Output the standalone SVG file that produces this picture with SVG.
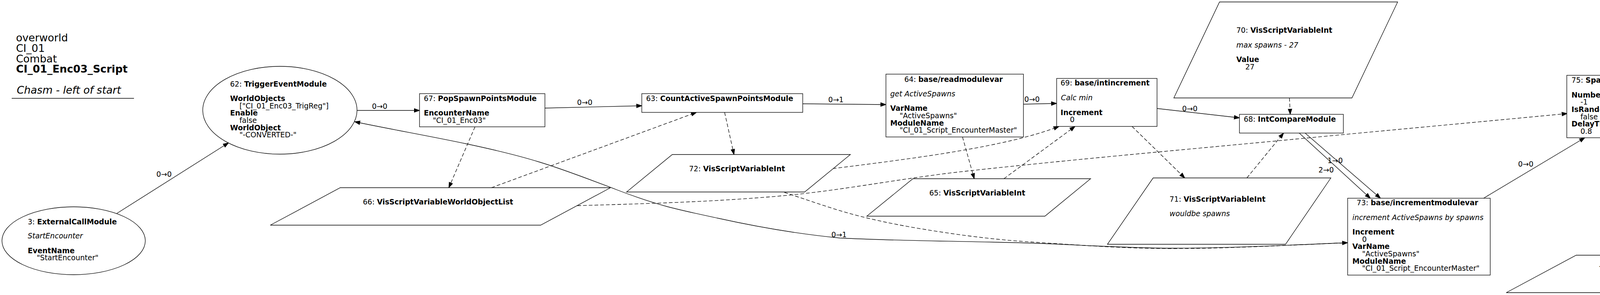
<svg xmlns="http://www.w3.org/2000/svg" width="4927" height="756" viewBox="0 0 4927 756">
<defs>
<style>
text{font-family:"DejaVu Sans","Liberation Sans",sans-serif;font-size:18.67px;fill:#000}
.b{font-weight:bold}
.i{font-style:italic}
.t{font-size:26.67px}
.n{fill:#fff;stroke:#000;stroke-width:1.33}
.e{fill:none;stroke:#000;stroke-width:1.33;marker-end:url(#ah)}
.d{stroke-dasharray:9.33,5.33}
.nm{fill:none;stroke:#000;stroke-width:1.33}
.l{text-anchor:middle}
</style>
<marker id="ah" markerWidth="16" markerHeight="12" refX="13.3" refY="4.67" orient="auto" markerUnits="userSpaceOnUse" overflow="visible">
<path d="M0,0 L13.3,4.67 L0,9.33 z" fill="#000" stroke="#000" stroke-width="1.33"/>
</marker>
</defs>
<rect width="4927" height="756" fill="#fff"/>

<g id="title">
<text class="t" x="41" y="106">overworld</text>
<text class="t" x="41" y="133">CI_01</text>
<text class="t" x="41" y="160">Combat</text>
<text class="t b" x="41" y="186">CI_01_Enc03_Script</text>
<text class="t i" x="43" y="240">Chasm - left of start</text>
<line x1="30" y1="252" x2="343" y2="252" stroke="#000" stroke-width="1.33"/>
</g>

<g id="connectors">
<path class="e" d="M299,547 L585,366"/>
<text class="l" x="420" y="453">0→0</text>
<path class="e" d="M914,283 L1074,283"/>
<text class="l" x="972" y="279">0→0</text>
<path class="e" d="M1395,277 L1643,271"/>
<text class="l" x="1497" y="269">0→0</text>
<path class="e" d="M2055,266 L2268,268"/>
<text class="l" x="2140" y="262">0→1</text>
<path class="e" d="M2620,267 L2705,265"/>
<text class="l" x="2642" y="261">0→0</text>
<path class="e" d="M2962,278 L3173,302"/>
<text class="l" x="3046" y="285">0→0</text>
<path class="e" d="M3341,341 L3534,508"/>
<text class="l" x="3418" y="418">1→0</text>
<path class="e" d="M3326,341 L3508,508"/>
<text class="l" x="3395" y="442">2→0</text>
<path class="e" d="M3798,508 L4057,353"/>
<text class="l" x="3906" y="427">0→0</text>
<path class="e" d="M4372,286 L4569,300"/>
<text class="l" x="4449" y="288">1→0</text>
<path class="e" d="M3450,622 C3300,628 3150,636 3000,636 C2880,636 2760,627 2640,623 C2477,618 2313,618 2150,610 C2046,600 1941,582 1837,559 C1795,550 1752,541 1710,530 C1666,518 1622,503 1578,486 C1512,461 1446,435 1380,415 C1319,396 1257,382 1196,369 C1102,349 1009,333 908,312"/>
<text class="l" x="2148" y="608">0→1</text>

<path class="e d" d="M1216,325 L1149,481"/>
<path class="e d" d="M1258,481 L1783,288"/>
<path class="e d" d="M1855,288 L1879,396"/>
<path class="e d" d="M2464,351 L2494,458"/>
<path class="e d" d="M2132,432 C2350,405 2580,375 2711,324"/>
<path class="e d" d="M2570,458 L2752,324"/>
<path class="e d" d="M2898,324 L3033,456"/>
<path class="e d" d="M3192,456 L3286,341"/>
<path class="e d" d="M3301,251 L3303,293"/>
<path class="e d" d="M1478,527 C1652,522 1826,517.5 2000,502 C2157,488 2313,456 2470,439 C2743,409 3017,385 3290,359 C3531,336 3771,314 4012,291"/>
<path class="e d" d="M2008,493 C2084,518 2146,541 2217,558 C2295,577 2368,588.5 2446,600 C2510,609 2574,616 2638,620 C2759,628 2879,637 3000,637 C3150,637 3300,628 3450,622"/>
<path class="e d" d="M4210,353 L4279,654"/>
</g>

<g id="node3">
<ellipse class="n" cx="188.5" cy="617" rx="183.5" ry="87"/>
<text x="71" y="575">3: <tspan class="b">ExternalCallModule</tspan></text>
<text class="i" x="71" y="611">StartEncounter</text>
<text class="b" x="71" y="649">EventName</text>
<text x="94" y="667">"StartEncounter"</text>
</g>

<g id="node62">
<ellipse class="n" cx="716.5" cy="282.5" rx="197.5" ry="112.5"/>
<text x="589" y="222">62: <tspan class="b">TriggerEventModule</tspan></text>
<text class="b" x="589" y="259">WorldObjects</text>
<text x="613" y="278">["CI_01_Enc03_TrigReg"]</text>
<text class="b" x="589" y="296">Enable</text>
<text x="613" y="315">false</text>
<text class="b" x="589" y="334">WorldObject</text>
<text x="613" y="352">"-CONVERTED-"</text>
</g>

<g id="node67">
<rect class="n" x="1074" y="240" width="321" height="85"/>
<text x="1085" y="259">67: <tspan class="b">PopSpawnPointsModule</tspan></text>
<text class="b" x="1085" y="296">EncounterName</text>
<text x="1108" y="315">"CI_01_Enc03"</text>
</g>

<g id="node66">
<polygon class="n" points="871,481 1563,481 1384,577 692,577"/>
<text x="929" y="524">66: <tspan class="b">VisScriptVariableWorldObjectList</tspan></text>
</g>

<g id="node63">
<rect class="n" x="1643" y="240" width="412" height="48"/>
<text x="1654" y="259">63: <tspan class="b">CountActiveSpawnPointsModule</tspan></text>
</g>

<g id="node72">
<polygon class="n" points="1721,396 2177,396 2060,492 1604,492"/>
<text x="1764" y="439">72: <tspan class="b">VisScriptVariableInt</tspan></text>
</g>

<g id="node64">
<rect class="n" x="2268" y="190" width="352" height="161"/>
<text x="2315" y="210">64: <tspan class="b">base/readmodulevar</tspan></text>
<text class="i" x="2279" y="247">get ActiveSpawns</text>
<text class="b" x="2279" y="284">VarName</text>
<text x="2303" y="303">"ActiveSpawns"</text>
<text class="b" x="2279" y="322">ModuleName</text>
<text x="2303" y="340">"CI_01_Script_EncounterMaster"</text>
</g>

<g id="node65">
<polygon class="n" points="2337,458 2792,458 2675,554 2219,554"/>
<text x="2379" y="501">65: <tspan class="b">VisScriptVariableInt</tspan></text>
</g>

<g id="node69">
<rect class="n" x="2705" y="201" width="257" height="123"/>
<text x="2715" y="219">69: <tspan class="b">base/intincrement</tspan></text>
<text class="i" x="2716" y="257">Calc min</text>
<text class="b" x="2715" y="295">Increment</text>
<text x="2739" y="313">0</text>
</g>

<g id="node70">
<polygon class="n" points="3122,5 3578,5 3461,251 3005,251"/>
<text x="3165" y="84">70: <tspan class="b">VisScriptVariableInt</tspan></text>
<text class="i" x="3165" y="122">max spawns - 27</text>
<text class="b" x="3165" y="159">Value</text>
<text x="3188" y="178">27</text>
</g>

<g id="node68">
<rect class="n" x="3173" y="293" width="266" height="48"/>
<text x="3184" y="312">68: <tspan class="b">IntCompareModule</tspan></text>
</g>

<g id="node71">
<polygon class="n" points="2952,456 3407,456 3291,626 2835,626"/>
<text x="2994" y="517">71: <tspan class="b">VisScriptVariableInt</tspan></text>
<text class="i" x="2994" y="554">wouldbe spawns</text>
</g>

<g id="node73">
<rect class="n" x="3450" y="508" width="365" height="197"/>
<text x="3473" y="526">73: <tspan class="b">base/incrementmodulevar</tspan></text>
<text class="i" x="3462" y="564">increment ActiveSpawns by spawns</text>
<text class="b" x="3462" y="601">Increment</text>
<text x="3487" y="620">0</text>
<text class="b" x="3462" y="638">VarName</text>
<text x="3487" y="657">"ActiveSpawns"</text>
<text class="b" x="3462" y="676">ModuleName</text>
<text x="3487" y="694">"CI_01_Script_EncounterMaster"</text>
</g>

<g id="node75">
<rect class="n" x="4011" y="193" width="361" height="160"/>
<text x="4023" y="212">75: <tspan class="b">SpawnMonsterEventModule</tspan></text>
<text class="b" x="4023" y="250">NumberToSpawn</text>
<text x="4046" y="268">-1</text>
<text class="b" x="4023" y="287">IsRandom</text>
<text x="4046" y="306">false</text>
<text class="b" x="4023" y="324">DelayTime</text>
<text x="4046" y="343">0.8</text>
</g>

<g id="node76">
<rect class="n" x="4569" y="214" width="353" height="197"/>
<text x="4585" y="233">76: <tspan class="b">base/incrementmodulevar</tspan></text>
<text class="i" x="4580" y="270">decrement ActiveSpawns by 1</text>
<text class="b" x="4580" y="308">Operator</text>
<text x="4604" y="326">1</text>
<text class="b" x="4580" y="345">VarName</text>
<text x="4604" y="364">"ActiveSpawns"</text>
<text class="b" x="4580" y="382">ModuleName</text>
<text x="4604" y="401">"CI_01_Script_EncounterMaster"</text>
</g>

<g id="node74">
<polygon class="n" points="4035,654 4726,654 4549,750 3856,750"/>
<text x="4093" y="696">74: <tspan class="b">VisScriptVariableWorldObjectList</tspan></text>
</g>
</svg>
